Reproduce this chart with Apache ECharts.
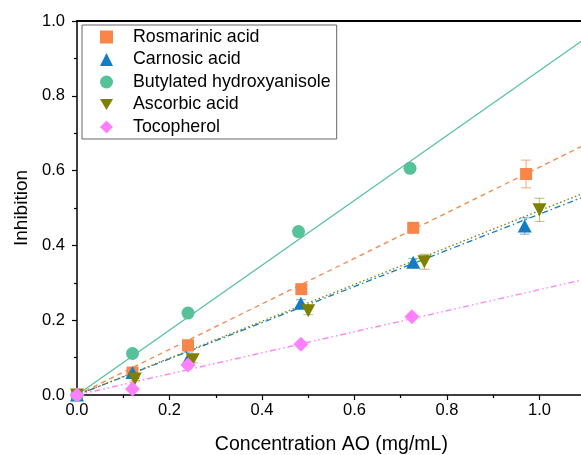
<!DOCTYPE html>
<html>
<head>
<meta charset="utf-8">
<script src="https://cdn.jsdelivr.net/npm/echarts@6/dist/echarts.min.js"></script>
<style>html,body{margin:0;padding:0;background:#fff;}#c{width:581px;height:455px;}</style>
</head>
<body>
<div id="c"></div>
<script>
// ---- data ----
const seriesNames = ['Rosmarinic acid', 'Carnosic acid', 'Butylated hydroxyanisole', 'Ascorbic acid', 'Tocopherol'];
const rosmarinic = [[0, 0], [0.12, 0.06], [0.24, 0.133], [0.485, 0.283], [0.727, 0.447], [0.971, 0.591]];
const rosmarinicErr = [0, 0.005, 0.008, 0.01, 0.008, 0.037];
const carnosic = [[0, 0], [0.12, 0.06], [0.24, 0.095], [0.484, 0.245], [0.727, 0.355], [0.968, 0.452]];
const carnosicErr = [0, 0.008, 0.02, 0.01, 0.01, 0.022];
const bha = [[0, 0], [0.12, 0.111], [0.24, 0.219], [0.479, 0.437], [0.72, 0.606]];
const bhaErr = [0, 0.004, 0.005, 0.006, 0.006];
const ascorbic = [[0, 0], [0.125, 0.043], [0.25, 0.094], [0.5, 0.225], [0.751, 0.356], [1.0, 0.495]];
const ascorbicErr = [0, 0.005, 0.008, 0.01, 0.02, 0.031];
const tocopherol = [[0, 0], [0.12, 0.016], [0.24, 0.08], [0.484, 0.136], [0.724, 0.209]];
const tocopherolErr = [0, 0.004, 0.005, 0.005, 0.005];
// fitted lines: endpoints read at x = 0 and x = 1.1
const fitRosmarinic = [[0, 0], [1.1, 0.670]];
const fitCarnosic = [[0, 0], [1.1, 0.532]];
const fitBha = [[0, 0], [1.1, 0.954]];
const fitAscorbic = [[0, 0], [1.1, 0.542]];
const fitTocopherol = [[0, 0], [1.1, 0.310]];
const xTicks = [0, 0.2, 0.4, 0.6, 0.8, 1.0];
const yTicks = [0, 0.2, 0.4, 0.6, 0.8, 1.0];

const colors = ['#FA8548', '#137CC2', '#55C29A', '#7F7F00', '#FF80FF'];
const errColors = ['rgba(250,133,72,0.6)', 'rgba(19,124,194,0.5)', 'rgba(85,194,154,0.5)', 'rgba(127,127,0,0.45)', 'rgba(255,128,255,0.5)'];
const invTri = 'path://M0,0 L14,0 L7,12 Z';
const symbols = ['rect', 'triangle', 'circle', invTri, 'diamond'];
const symSizes = [12, [14, 13], 13, [14, 13], 15];
const pts = [rosmarinic, carnosic, bha, ascorbic, tocopherol];
const errs = [rosmarinicErr, carnosicErr, bhaErr, ascorbicErr, tocopherolErr];
const fits = [fitRosmarinic, fitCarnosic, fitBha, fitAscorbic, fitTocopherol];
const dashes = ['solid', 'solid', 'solid', 'solid', 'solid'];
dashes[0] = [5, 4];
dashes[1] = [6, 3, 1.5, 3];
dashes[3] = [1.5, 2.5];
dashes[4] = [6, 3, 1.5, 3, 1.5, 3];
const font = 'Liberation Sans, Arial, sans-serif';

const series = [];
fits.forEach((f, i) => {
  series.push({
    type: 'line', data: f, showSymbol: false, symbol: 'none', silent: true, z: 1,
    lineStyle: { color: colors[i], width: 1.3, type: dashes[i] }
  });
});
pts.forEach((p, i) => {
  series.push({
    type: 'custom', z: 2, silent: true,
    data: p.map((d, j) => [d[0], d[1], errs[i][j]]),
    renderItem: function (params, api) {
      const x = api.value(0), y = api.value(1), e = api.value(2);
      const top = api.coord([x, y + e]);
      const bot = api.coord([x, y - e]);
      const hw = 5;
      const st = { stroke: errColors[i], lineWidth: 1.2 };
      return {
        type: 'group',
        children: [
          { type: 'line', shape: { x1: top[0], y1: top[1], x2: bot[0], y2: bot[1] }, style: st },
          { type: 'line', shape: { x1: top[0] - hw, y1: top[1], x2: top[0] + hw, y2: top[1] }, style: st },
          { type: 'line', shape: { x1: bot[0] - hw, y1: bot[1], x2: bot[0] + hw, y2: bot[1] }, style: st }
        ]
      };
    }
  });
});
pts.forEach((p, i) => {
  series.push({
    name: seriesNames[i], type: 'scatter', data: p, z: 3,
    symbol: symbols[i], symbolSize: symSizes[i],
    itemStyle: { color: colors[i], opacity: 1 }
  });
});

const chart = echarts.init(document.getElementById('c'), null, { renderer: 'canvas' });
chart.setOption({
  animation: false,
  backgroundColor: '#fff',
  color: colors,
  grid: { left: 77, top: 21, width: 508.75, height: 374, containLabel: false, outerBoundsMode: 'none' },
  legend: {
    data: seriesNames.map((n, i) => ({ name: n, icon: symbols[i] })),
    orient: 'vertical', left: 82, top: 25,
    padding: [1, 6, 1, 18],
    itemWidth: 13, itemHeight: 13, itemGap: 0.5,
    borderColor: '#666', borderWidth: 1, borderRadius: 0,
    backgroundColor: '#fff',
    textStyle: { fontFamily: font, fontSize: 17.8, color: '#000', lineHeight: 22, padding: [0, 0, 0, 15] },
    selectedMode: false
  },
  xAxis: [{
    type: 'value', min: 0, max: 1.1, interval: 0.2,
    name: 'Concentration AO (mg/mL)', nameLocation: 'middle', nameGap: 40,
    nameTextStyle: { fontFamily: font, fontSize: 19.5, color: '#000' },
    axisLine: { show: true, onZero: false, lineStyle: { color: '#000', width: 1.5 } },
    axisTick: { show: true, length: 5, lineStyle: { color: '#000', width: 1.2 } },
    minorTick: { show: true, splitNumber: 2, length: 3, lineStyle: { color: '#000', width: 1.2 } },
    axisLabel: { fontFamily: font, fontSize: 16.5, color: '#000', margin: 7,
      formatter: v => xTicks.some(t => Math.abs(t - v) < 1e-9) ? v.toFixed(1) : '' },
    splitLine: { show: false }
  }, {
    type: 'value', position: 'top', min: 0, max: 1.1,
    axisLine: { show: true, onZero: false, lineStyle: { color: '#000', width: 2 } },
    axisTick: { show: false }, axisLabel: { show: false }, splitLine: { show: false }
  }],
  yAxis: [{
    type: 'value', min: 0, max: 1.0, interval: 0.2,
    name: 'Inhibition', nameLocation: 'middle', nameGap: 45,
    nameTextStyle: { fontFamily: font, fontSize: 19, color: '#000' },
    axisLine: { show: true, onZero: false, lineStyle: { color: '#000', width: 1.5 } },
    axisTick: { show: true, length: 5, lineStyle: { color: '#000', width: 1.2 } },
    minorTick: { show: true, splitNumber: 2, length: 3, lineStyle: { color: '#000', width: 1.2 } },
    axisLabel: { fontFamily: font, fontSize: 16.5, color: '#000', margin: 12,
      formatter: v => yTicks.some(t => Math.abs(t - v) < 1e-9) ? v.toFixed(1) : '' },
    splitLine: { show: false }
  }],
  series: series
});
</script>
</body>
</html>
